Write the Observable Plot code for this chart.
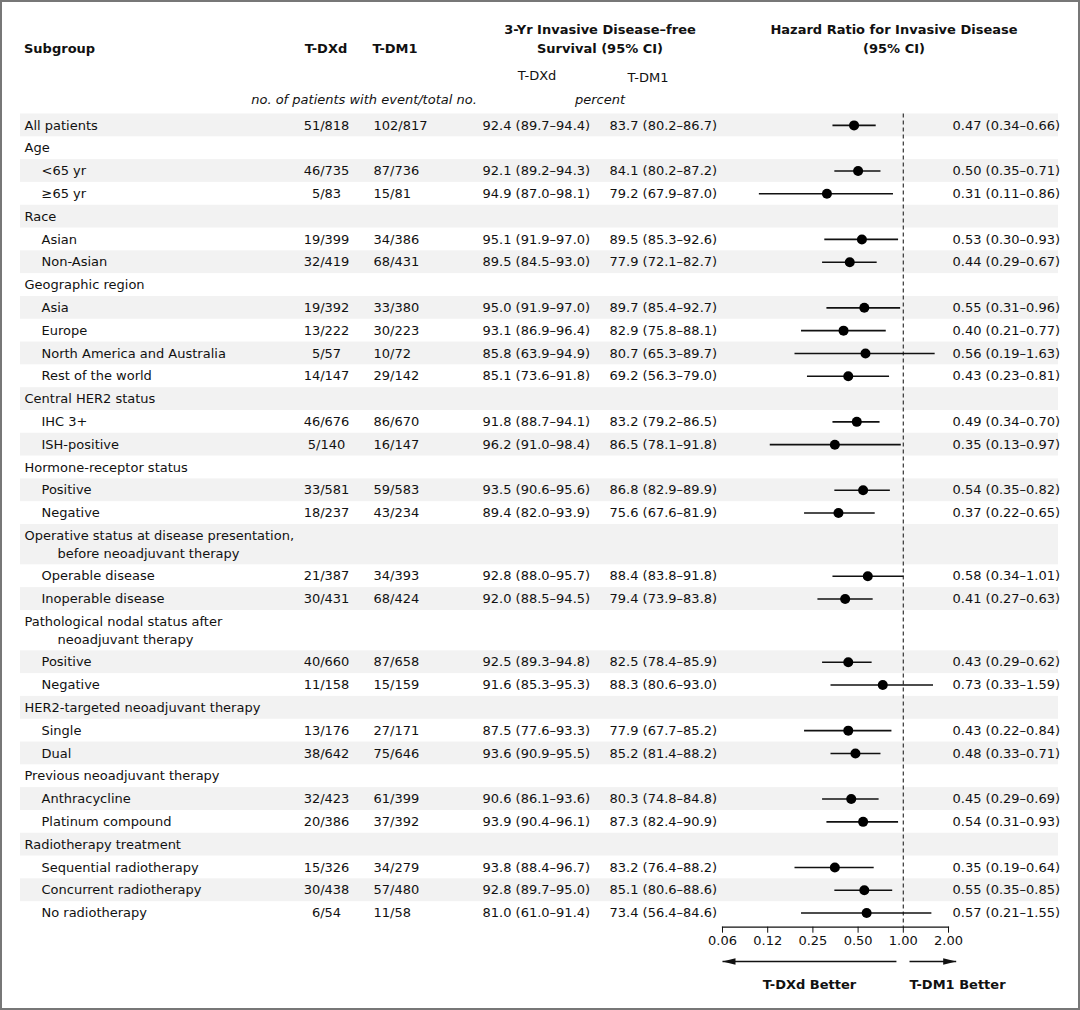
<!DOCTYPE html>
<html><head><meta charset="utf-8">
<script src="https://cdn.jsdelivr.net/npm/d3@7"></script>
<script src="https://cdn.jsdelivr.net/npm/@observablehq/plot@0.6"></script>
<style>
body{margin:0;background:#fff;}
#wrap{position:relative;width:1080px;height:1010px;font-family:"DejaVu Sans",sans-serif;color:#111;overflow:hidden;background:#fff;}
#wrap svg{position:absolute;left:0;top:0;}
.h{position:absolute;transform:translate(-50%,-50%);white-space:nowrap;font-size:13px;line-height:19px;text-align:center;}
.h.start{transform:translate(0,-50%);text-align:left;}
.b{font-weight:bold;}
.i{font-style:italic;}
#border{position:absolute;left:0;top:0;width:1080px;height:1010px;border:2px solid #777;box-sizing:border-box;pointer-events:none;}
</style></head><body><div id="wrap"></div>
<script>
// ---------- data ----------
const subgroups = ["All patients","Age","<65 yr","≥65 yr","Race","Asian","Non-Asian","Geographic region","Asia","Europe","North America and Australia","Rest of the world","Central HER2 status","IHC 3+","ISH-positive","Hormone-receptor status","Positive","Negative","Operative status at disease presentation,\nbefore neoadjuvant therapy","Operable disease","Inoperable disease","Pathological nodal status after\nneoadjuvant therapy","Positive","Negative","HER2-targeted neoadjuvant therapy","Single","Dual","Previous neoadjuvant therapy","Anthracycline","Platinum compound","Radiotherapy treatment","Sequential radiotherapy","Concurrent radiotherapy","No radiotherapy"];
const indentLevel = [0,0,1,1,0,1,1,0,1,1,1,1,0,1,1,0,1,1,0,1,1,0,1,1,0,1,1,0,1,1,0,1,1,1];
const tdxdEvents = [51,null,46,5,null,19,32,null,19,13,5,14,null,46,5,null,33,18,null,21,30,null,40,11,null,13,38,null,32,20,null,15,30,6];
const tdxdTotal  = [818,null,735,83,null,399,419,null,392,222,57,147,null,676,140,null,581,237,null,387,431,null,660,158,null,176,642,null,423,386,null,326,438,54];
const tdm1Events = [102,null,87,15,null,34,68,null,33,30,10,29,null,86,16,null,59,43,null,34,68,null,87,15,null,27,75,null,61,37,null,34,57,11];
const tdm1Total  = [817,null,736,81,null,386,431,null,380,223,72,142,null,670,147,null,583,234,null,393,424,null,658,159,null,171,646,null,399,392,null,279,480,58];
const dfsTdxd   = [92.4,null,92.1,94.9,null,95.1,89.5,null,95.0,93.1,85.8,85.1,null,91.8,96.2,null,93.5,89.4,null,92.8,92.0,null,92.5,91.6,null,87.5,93.6,null,90.6,93.9,null,93.8,92.8,81.0];
const dfsTdxdLo = [89.7,null,89.2,87.0,null,91.9,84.5,null,91.9,86.9,63.9,73.6,null,88.7,91.0,null,90.6,82.0,null,88.0,88.5,null,89.3,85.3,null,77.6,90.9,null,86.1,90.4,null,88.4,89.7,61.0];
const dfsTdxdHi = [94.4,null,94.3,98.1,null,97.0,93.0,null,97.0,96.4,94.9,91.8,null,94.1,98.4,null,95.6,93.9,null,95.7,94.5,null,94.8,95.3,null,93.3,95.5,null,93.6,96.1,null,96.7,95.0,91.4];
const dfsTdm1   = [83.7,null,84.1,79.2,null,89.5,77.9,null,89.7,82.9,80.7,69.2,null,83.2,86.5,null,86.8,75.6,null,88.4,79.4,null,82.5,88.3,null,77.9,85.2,null,80.3,87.3,null,83.2,85.1,73.4];
const dfsTdm1Lo = [80.2,null,80.2,67.9,null,85.3,72.1,null,85.4,75.8,65.3,56.3,null,79.2,78.1,null,82.9,67.6,null,83.8,73.9,null,78.4,80.6,null,67.7,81.4,null,74.8,82.4,null,76.4,80.6,56.4];
const dfsTdm1Hi = [86.7,null,87.2,87.0,null,92.6,82.7,null,92.7,88.1,89.7,79.0,null,86.5,91.8,null,89.9,81.9,null,91.8,83.8,null,85.9,93.0,null,85.2,88.2,null,84.8,90.9,null,88.2,88.6,84.6];
const hazardRatio = [0.47,null,0.50,0.31,null,0.53,0.44,null,0.55,0.40,0.56,0.43,null,0.49,0.35,null,0.54,0.37,null,0.58,0.41,null,0.43,0.73,null,0.43,0.48,null,0.45,0.54,null,0.35,0.55,0.57];
const hazardLo    = [0.34,null,0.35,0.11,null,0.30,0.29,null,0.31,0.21,0.19,0.23,null,0.34,0.13,null,0.35,0.22,null,0.34,0.27,null,0.29,0.33,null,0.22,0.33,null,0.29,0.31,null,0.19,0.35,0.21];
const hazardHi    = [0.66,null,0.71,0.86,null,0.93,0.67,null,0.96,0.77,1.63,0.81,null,0.70,0.97,null,0.82,0.65,null,1.01,0.63,null,0.62,1.59,null,0.84,0.71,null,0.69,0.93,null,0.64,0.85,1.55];
const tickValues = [0.0625, 0.125, 0.25, 0.5, 1, 2];
const tickLabels = ["0.06","0.12","0.25","0.50","1.00","2.00"];
const betterLabels = ["T-DXd Better","T-DM1 Better"];
const arrowFrom = [0.9, 1.1];
const arrowTo = [0.0625, 2.25];

const headerTexts = [
  "Subgroup","T-DXd","T-DM1","3-Yr Invasive Disease–free<br>Survival (95% CI)",
  "T-DXd","T-DM1","no. of patients with event/total no.","percent",
  "Hazard Ratio for Invasive Disease<br>(95% CI)"
];

// ---------- layout (styles / positions) ----------
const FONT = "DejaVu Sans, sans-serif";
const headerLayout = [
  {x:24,y:48,cls:"b start"},{x:326,y:48,cls:"b"},{x:395,y:48,cls:"b"},{x:600,y:39,cls:"b"},
  {x:537,y:75,cls:""},{x:648,y:77,cls:""},{x:364,y:99,cls:"i"},{x:600,y:99,cls:"i"},
  {x:894,y:39,cls:"b"}
];
const W = 1080, H = 1010, MT = 113.5, MB = 83.3;
const DOUBLE = 1.77, LINESTEP = 0.79;

// ---------- derived rows ----------
let acc = 0;
const rows = subgroups.map((label, i) => {
  const lines = label.split("\n");
  const h = lines.length > 1 ? DOUBLE : 1;
  const r = {i, label, lines, top: acc, bottom: acc + h, center: acc + h / 2, level: indentLevel[i],
    te: tdxdEvents[i], tn: tdxdTotal[i], me: tdm1Events[i], mn: tdm1Total[i],
    dT: dfsTdxd[i], dTl: dfsTdxdLo[i], dTh: dfsTdxdHi[i],
    dM: dfsTdm1[i], dMl: dfsTdm1Lo[i], dMh: dfsTdm1Hi[i],
    hr: hazardRatio[i], lo: hazardLo[i], hi: hazardHi[i]};
  acc += h;
  return r;
});
const yMax = acc + 0.12;
const lineItems = rows.flatMap(r => r.lines.map((t, j) => ({
  text: t, level: j === 0 ? r.level : 2,
  y: r.center + (j - (r.lines.length - 1) / 2) * LINESTEP
})));
const valued = rows.filter(r => r.hr != null);
const f1 = v => v.toFixed(1), f2 = v => v.toFixed(2);
const yScale = {domain: [0, yMax], reverse: true, axis: null};
const baseStyle = {fontFamily: FONT, fontSize: "13px", background: "transparent", color: "#111", overflow: "visible"};

const wrap = document.getElementById("wrap");

const table = Plot.plot({
  width: W, height: H, marginTop: MT, marginBottom: MB, marginLeft: 20, marginRight: 22,
  y: yScale, style: baseStyle,
  marks: [
    Plot.rect(rows.filter(r => r.i % 2 === 0), {y1: "top", y2: "bottom", fill: "#f2f2f2"}),
    Plot.text(lineItems.filter(d => d.level === 0), {y: "y", text: "text", frameAnchor: "left", dx: 4, textAnchor: "start", fill: "#111"}),
    Plot.text(lineItems.filter(d => d.level === 1), {y: "y", text: "text", frameAnchor: "left", dx: 21, textAnchor: "start", fill: "#111"}),
    Plot.text(lineItems.filter(d => d.level === 2), {y: "y", text: "text", frameAnchor: "left", dx: 37, textAnchor: "start", fill: "#111"}),
    Plot.text(valued, {y: "center", text: d => `${d.te}/${d.tn}`, frameAnchor: "left", dx: 306, textAnchor: "middle", fill: "#111"}),
    Plot.text(valued, {y: "center", text: d => `${d.me}/${d.mn}`, frameAnchor: "left", dx: 353, textAnchor: "start", fill: "#111"}),
    Plot.text(valued, {y: "center", text: d => `${f1(d.dT)} (${f1(d.dTl)}–${f1(d.dTh)})`, frameAnchor: "left", dx: 462, textAnchor: "start", fill: "#111"}),
    Plot.text(valued, {y: "center", text: d => `${f1(d.dM)} (${f1(d.dMl)}–${f1(d.dMh)})`, frameAnchor: "left", dx: 589, textAnchor: "start", fill: "#111"}),
    Plot.text(valued, {y: "center", text: d => `${f2(d.hr)} (${f2(d.lo)}–${f2(d.hi)})`, frameAnchor: "left", dx: 932, textAnchor: "start", fill: "#111"})
  ]
});
wrap.appendChild(table);

const xScale = {type: "log", domain: [0.0625, 2]};
const forest = Plot.plot({
  width: W, height: H, marginTop: MT, marginBottom: MB, marginLeft: 722, marginRight: 132,
  x: xScale, y: yScale, style: baseStyle,
  marks: [
    Plot.ruleX([1], {stroke: "#333", strokeDasharray: "4,3", strokeWidth: 1.2}),
    Plot.ruleY(valued, {y: "center", x1: "lo", x2: "hi", stroke: "#111", strokeWidth: 1.6}),
    Plot.dot(valued, {x: "hr", y: "center", r: 5, fill: "#000"}),
    Plot.frame({anchor: "bottom", stroke: "#111", strokeWidth: 1.2}),
    Plot.axisX({ticks: tickValues, tickFormat: d => tickLabels[tickValues.indexOf(d)], tickSize: 6, tickPadding: 3, label: null, fontSize: 13, stroke: "#111", fill: "#111"})
  ]
});
wrap.appendChild(forest);

const arrowData = betterLabels.map((label, i) => ({label, from: arrowFrom[i], to: arrowTo[i], dir: i === 0 ? -1 : 1}));
const headSymbol = {draw(ctx) { ctx.moveTo(0, 0); ctx.lineTo(-13, -3.3); ctx.lineTo(-13, 3.3); ctx.closePath(); }};
const arrows = Plot.plot({
  width: W, height: H, marginLeft: 722, marginRight: 132,
  x: {...xScale, axis: null},
  y: {type: "point", domain: ["arrow", "label"], range: [961, 984], padding: 0, axis: null},
  style: baseStyle,
  marks: [
    Plot.link(arrowData, {x1: "from", x2: "to", y1: () => "arrow", y2: () => "arrow", stroke: "#111", strokeWidth: 1.5}),
    Plot.dot(arrowData, {x: "to", y: () => "arrow", symbol: headSymbol, r: 5, fill: "#111", stroke: null, rotate: d => d.dir < 0 ? 180 : 0}),
    Plot.text(arrowData.filter(d => d.dir < 0), {x: d => Math.sqrt(d.from * d.to), y: () => "label", text: "label", fontWeight: "bold", textAnchor: "middle", fill: "#111"}),
    Plot.text(arrowData.filter(d => d.dir > 0), {x: "from", y: () => "label", text: "label", fontWeight: "bold", textAnchor: "start", fill: "#111"})
  ]
});
wrap.appendChild(arrows);

headerTexts.forEach((t, i) => {
  const L = headerLayout[i];
  const d = document.createElement("div");
  d.className = "h " + L.cls;
  d.style.left = L.x + "px"; d.style.top = L.y + "px";
  d.innerHTML = t;
  wrap.appendChild(d);
});
const border = document.createElement("div");
border.id = "border";
wrap.appendChild(border);
</script>
</body></html>
